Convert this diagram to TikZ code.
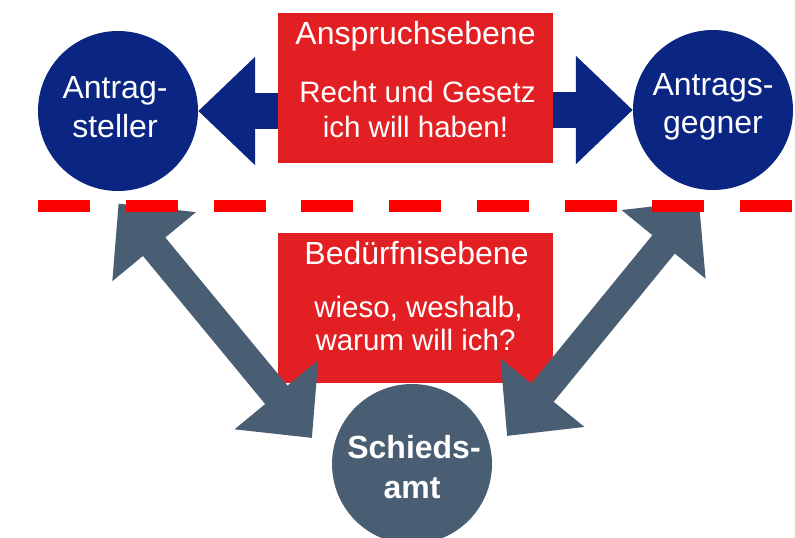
\documentclass[tikz,border=0pt]{standalone}
\usepackage{fontspec}
\setmainfont{Liberation Sans}
\usetikzlibrary{arrows.meta,calc}
\definecolor{navy}{RGB}{10,38,130}
\definecolor{boxred}{RGB}{226,32,36}
\definecolor{dashred}{RGB}{250,0,0}
\definecolor{slate}{RGB}{73,94,114}
\begin{document}
\begin{tikzpicture}[x=1pt,y=-1pt,
  redbox/.style={fill=boxred, minimum width=275pt, minimum height=150pt, inner sep=0pt},
  bluecirc/.style={circle, fill=navy, minimum size=160pt, inner sep=0pt},
  graycirc/.style={circle, fill=slate, minimum size=160pt, inner sep=0pt},
  titletxt/.style={text=white, anchor=base, inner sep=0pt, font=\fontsize{32}{38}\selectfont},
  bodytxt/.style={text=white, anchor=base, inner sep=0pt, font=\fontsize{29.5}{35}\selectfont},
  circtxt/.style={text=white, anchor=base, inner sep=0pt, font=\fontsize{32}{38}\selectfont},
  circbold/.style={text=white, anchor=base, inner sep=0pt, font=\fontsize{32}{38}\selectfont\bfseries},
  navyarrow/.style={draw=navy, fill=navy, line width=36pt, -{Triangle[width=105pt,length=57pt]}},
  grayarrow/.style={draw=slate, fill=slate, line width=29pt, {Triangle[width=105pt,length=56pt]}-{Triangle[width=105pt,length=56pt]}},
  dashline/.style={draw=dashred, line width=12pt, dash pattern=on 52pt off 35.75pt}
]
\useasboundingbox[fill=white] (0,0) rectangle (795,538);

% circles
\node[bluecirc] (ast) at (118,111) {};
\node[bluecirc] (agg) at (713,110) {};
\node[graycirc] (sa) at (412,464) {};

% boxes positions (drawn after the blue arrows)
\coordinate (tbc) at (415.5,88);
\draw[navyarrow] (tbc |- ast) -- (ast.east);
\draw[navyarrow] (tbc |- agg) -- (agg.west);

\node[redbox] (tb) at (tbc) {};
\node[redbox] (bb) at (415.5,308) {};

% grey double arrows
\coordinate (g1a) at (118.5,203.5);
\coordinate (g1b) at (312,438);
\coordinate (g2a) at (699,201);
\coordinate (g2b) at (507,436);
\draw[grayarrow] (g1a) -- (g1b);
\draw[grayarrow] (g2a) -- (g2b);

% dashed separator
\coordinate (d1) at (38,206);
\coordinate (d2) at (792,206);
\draw[dashline] (d1) -- (d2);

% texts in boxes
\node[titletxt] (t1) at ($(tb.north)+(0,32)$) {Anspruchsebene};
\node[bodytxt] (t2) at ($(tb.north)+(2,90)$) {Recht und Gesetz};
\node[bodytxt] (t3) at ($(tb.north)+(0,125)$) {ich will haben!};
\node[titletxt] (b1) at ($(bb.north)+(1,32)$) {Bedürfnisebene};
\node[bodytxt] (b2) at ($(bb.north)+(3,85)$) {wieso, weshalb,};
\node[bodytxt] (b3) at ($(bb.north)+(0,118)$) {warum will ich?};

% texts in circles
\node[circtxt] (a1) at ($(ast)+(-3,-13)$) {Antrag-};
\node[circtxt] (a2) at ($(ast)+(-3,26)$) {steller};
\node[circtxt] (r1) at ($(agg)+(0,-15)$) {Antrags-};
\node[circtxt] (r2) at ($(agg)+(0,23)$) {gegner};
\node[circbold] (s1) at ($(sa)+(2,-6)$) {Schieds-};
\node[circbold] (s2) at ($(sa)+(0,34)$) {amt};
\end{tikzpicture}
\end{document}
